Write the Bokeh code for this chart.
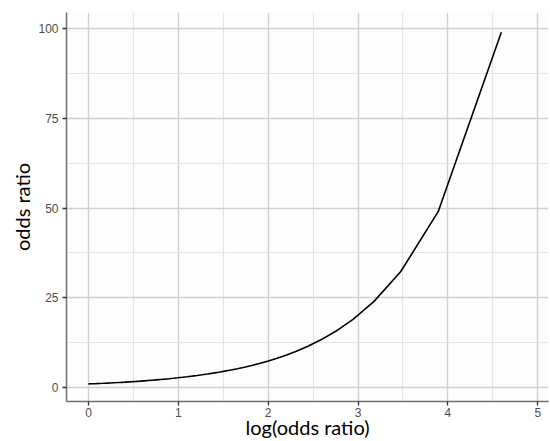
from bokeh.plotting import figure
from bokeh.models import FixedTicker, Range1d
from bokeh.embed import file_html
from bokeh.resources import INLINE

# odds ratio values (p = 0.50 ... 0.99) and their logs
odds_ratio = [1.0, 1.0408, 1.0833, 1.1277, 1.1739, 1.2222, 1.2727, 1.3256, 1.3810, 1.4390,
              1.5, 1.5641, 1.6316, 1.7027, 1.7778, 1.8571, 1.9412, 2.0303, 2.125, 2.2258,
              2.3333, 2.4483, 2.5714, 2.7037, 2.8462, 3.0, 3.1667, 3.3478, 3.5455, 3.7619,
              4.0, 4.2632, 4.5556, 4.8824, 5.25, 5.6667, 6.1429, 6.6923, 7.3333, 8.0909,
              9.0, 10.1111, 11.5, 13.2857, 15.6667, 19.0, 24.0, 32.3333, 49.0, 99.0]
log_odds = [0.0, 0.0400, 0.0800, 0.1201, 0.1603, 0.2007, 0.2412, 0.2819, 0.3228, 0.3640,
            0.4055, 0.4473, 0.4895, 0.5322, 0.5754, 0.6190, 0.6633, 0.7082, 0.7538, 0.8001,
            0.8473, 0.8954, 0.9445, 0.9946, 1.0460, 1.0986, 1.1527, 1.2083, 1.2657, 1.3249,
            1.3863, 1.4500, 1.5163, 1.5856, 1.6582, 1.7346, 1.8153, 1.9010, 1.9924, 2.0907,
            2.1972, 2.3136, 2.4423, 2.5867, 2.7515, 2.9444, 3.1781, 3.4761, 3.8918, 4.5951]

x_ticks = [0, 1, 2, 3, 4, 5]
x_minor = [-0.5, 0.5, 1.5, 2.5, 3.5, 4.5, 5.5]
y_ticks = [0, 25, 50, 75, 100]
y_minor = [12.5, 37.5, 62.5, 87.5]
x_title = "log(odds ratio)"
y_title = "odds ratio"

p = figure(width=550, height=441, output_backend="svg", toolbar_location=None,
           x_range=Range1d(-0.245, 5.12), y_range=Range1d(-3.9, 104.5),
           min_border_left=66, min_border_right=2, min_border_top=12, min_border_bottom=40,
           background_fill_color="#fdfdfd", border_fill_color="#ffffff")
p.outline_line_color = None

p.line(log_odds, odds_ratio, line_color="black", line_width=1.6)

p.xaxis.ticker = FixedTicker(ticks=x_ticks, minor_ticks=x_minor)
p.yaxis.ticker = FixedTicker(ticks=y_ticks, minor_ticks=y_minor)

for ax in (p.xaxis, p.yaxis):
    ax.axis_line_color = "#707070"
    ax.axis_line_width = 1.5
    ax.major_tick_line_color = "#333333"
    ax.major_tick_line_width = 1.3
    ax.major_tick_out = 4
    ax.major_tick_in = 0
    ax.minor_tick_out = 0
    ax.minor_tick_in = 0
    ax.major_label_text_font = "Liberation Sans"
    ax.major_label_text_font_size = "12px"
    ax.major_label_text_color = "#4d4d4d"
    ax.major_label_standoff = 4
    ax.axis_label_text_font = "Lato"
    ax.axis_label_text_font_size = "20px"
    ax.axis_label_text_font_style = "normal"
    ax.axis_label_text_color = "#000000"

p.xaxis.axis_label = x_title
p.yaxis.axis_label = y_title
p.xaxis.major_label_standoff = 2
p.xaxis.axis_label_standoff = -5
p.yaxis.axis_label_standoff = 1

for g in (p.xgrid, p.ygrid):
    g.grid_line_color = "#d0d0d0"
    g.grid_line_width = 1.4
    g.minor_grid_line_color = "#e4e4e4"
    g.minor_grid_line_width = 1.2

open("out.html", "w").write(file_html(p, INLINE))
